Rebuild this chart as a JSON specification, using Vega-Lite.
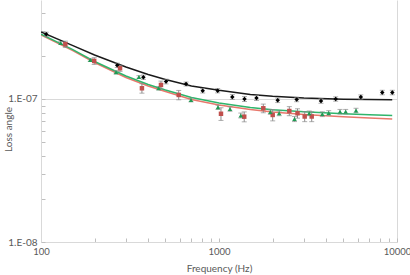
{
  "$schema": "https://vega.github.io/schema/vega-lite/v6.json",
  "width": 356,
  "height": 242,
  "autosize": {"type": "none"},
  "padding": {"left": 41, "right": 13, "top": 0, "bottom": 33},
  "background": "white",
  "config": {
    "view": {"stroke": null},
    "font": "Lato",
    "axis": {
      "domainColor": "#d9d9d9",
      "gridColor": "#d9d9d9",
      "tickColor": "#bfbfbf",
      "labelColor": "#595959",
      "titleColor": "#595959",
      "labelFont": "Lato",
      "titleFont": "Lato",
      "labelFontSize": 10,
      "titleFontSize": 10,
      "titleFontWeight": "normal"
    }
  },
  "datasets": {
    "pts": [
      {"series": "A", "f": 107, "v": 2.83e-7, "err": 0.10e-7},
      {"series": "A", "f": 268, "v": 1.72e-7, "err": 0.06e-7},
      {"series": "A", "f": 376, "v": 1.42e-7, "err": 0.05e-7},
      {"series": "A", "f": 504, "v": 1.325e-7, "err": 0.05e-7},
      {"series": "A", "f": 653, "v": 1.273e-7, "err": 0.04e-7},
      {"series": "A", "f": 810, "v": 1.141e-7, "err": 0.04e-7},
      {"series": "A", "f": 983, "v": 1.143e-7, "err": 0.04e-7},
      {"series": "A", "f": 1188, "v": 1.033e-7, "err": 0.04e-7},
      {"series": "A", "f": 1391, "v": 1.0e-7, "err": 0.04e-7},
      {"series": "A", "f": 1624, "v": 1.016e-7, "err": 0.04e-7},
      {"series": "A", "f": 2137, "v": 0.979e-7, "err": 0.035e-7},
      {"series": "A", "f": 2732, "v": 0.992e-7, "err": 0.035e-7},
      {"series": "A", "f": 3741, "v": 0.968e-7, "err": 0.035e-7},
      {"series": "A", "f": 4524, "v": 1.0e-7, "err": 0.035e-7},
      {"series": "A", "f": 6261, "v": 1.033e-7, "err": 0.035e-7},
      {"series": "A", "f": 8266, "v": 1.11e-7, "err": 0.04e-7},
      {"series": "A", "f": 9410, "v": 1.11e-7, "err": 0.04e-7},
      {"series": "B", "f": 137, "v": 2.416e-7, "err": 0.12e-7},
      {"series": "B", "f": 199, "v": 1.844e-7, "err": 0.10e-7},
      {"series": "B", "f": 278, "v": 1.639e-7, "err": 0.08e-7},
      {"series": "B", "f": 369, "v": 1.188e-7, "err": 0.09e-7},
      {"series": "B", "f": 472, "v": 1.253e-7, "err": 0.08e-7},
      {"series": "B", "f": 594, "v": 1.067e-7, "err": 0.08e-7},
      {"series": "B", "f": 1026, "v": 0.788e-7, "err": 0.08e-7},
      {"series": "B", "f": 1386, "v": 0.752e-7, "err": 0.06e-7},
      {"series": "B", "f": 1774, "v": 0.861e-7, "err": 0.06e-7},
      {"series": "B", "f": 2003, "v": 0.773e-7, "err": 0.07e-7},
      {"series": "B", "f": 2483, "v": 0.824e-7, "err": 0.06e-7},
      {"series": "B", "f": 2761, "v": 0.794e-7, "err": 0.06e-7},
      {"series": "B", "f": 3030, "v": 0.754e-7, "err": 0.06e-7},
      {"series": "B", "f": 3318, "v": 0.754e-7, "err": 0.06e-7},
      {"series": "C", "f": 129, "v": 2.464e-7, "err": 0.05e-7},
      {"series": "C", "f": 189, "v": 1.874e-7, "err": 0.04e-7},
      {"series": "C", "f": 264, "v": 1.537e-7, "err": 0.04e-7},
      {"series": "C", "f": 355, "v": 1.425e-7, "err": 0.03e-7},
      {"series": "C", "f": 458, "v": 1.188e-7, "err": 0.03e-7},
      {"series": "C", "f": 696, "v": 0.984e-7, "err": 0.03e-7},
      {"series": "C", "f": 987, "v": 0.875e-7, "err": 0.03e-7},
      {"series": "C", "f": 1153, "v": 0.851e-7, "err": 0.03e-7},
      {"series": "C", "f": 1326, "v": 0.767e-7, "err": 0.03e-7},
      {"series": "C", "f": 1942, "v": 0.811e-7, "err": 0.03e-7},
      {"series": "C", "f": 2178, "v": 0.794e-7, "err": 0.03e-7},
      {"series": "C", "f": 2656, "v": 0.725e-7, "err": 0.03e-7},
      {"series": "C", "f": 3212, "v": 0.794e-7, "err": 0.03e-7},
      {"series": "C", "f": 3805, "v": 0.783e-7, "err": 0.03e-7},
      {"series": "C", "f": 4134, "v": 0.798e-7, "err": 0.03e-7},
      {"series": "C", "f": 4784, "v": 0.815e-7, "err": 0.03e-7},
      {"series": "C", "f": 5149, "v": 0.815e-7, "err": 0.03e-7},
      {"series": "C", "f": 5885, "v": 0.831e-7, "err": 0.03e-7}
    ],
    "curves": [
      {"series": "A", "f": 100, "v": 2.94e-7},
      {"series": "A", "f": 150, "v": 2.37e-7},
      {"series": "A", "f": 200, "v": 2.03e-7},
      {"series": "A", "f": 300, "v": 1.674e-7},
      {"series": "A", "f": 400, "v": 1.483e-7},
      {"series": "A", "f": 500, "v": 1.37e-7},
      {"series": "A", "f": 700, "v": 1.233e-7},
      {"series": "A", "f": 1000, "v": 1.15e-7},
      {"series": "A", "f": 1500, "v": 1.075e-7},
      {"series": "A", "f": 2000, "v": 1.044e-7},
      {"series": "A", "f": 3000, "v": 1.016e-7},
      {"series": "A", "f": 5000, "v": 0.997e-7},
      {"series": "A", "f": 7000, "v": 0.992e-7},
      {"series": "A", "f": 9400, "v": 0.989e-7},
      {"series": "B", "f": 100, "v": 2.803e-7},
      {"series": "B", "f": 150, "v": 2.184e-7},
      {"series": "B", "f": 200, "v": 1.80e-7},
      {"series": "B", "f": 300, "v": 1.413e-7},
      {"series": "B", "f": 400, "v": 1.233e-7},
      {"series": "B", "f": 500, "v": 1.128e-7},
      {"series": "B", "f": 700, "v": 0.992e-7},
      {"series": "B", "f": 1000, "v": 0.908e-7},
      {"series": "B", "f": 1500, "v": 0.845e-7},
      {"series": "B", "f": 2000, "v": 0.811e-7},
      {"series": "B", "f": 3000, "v": 0.779e-7},
      {"series": "B", "f": 5000, "v": 0.751e-7},
      {"series": "B", "f": 7000, "v": 0.736e-7},
      {"series": "B", "f": 9400, "v": 0.725e-7},
      {"series": "C", "f": 100, "v": 2.835e-7},
      {"series": "C", "f": 150, "v": 2.22e-7},
      {"series": "C", "f": 200, "v": 1.829e-7},
      {"series": "C", "f": 300, "v": 1.448e-7},
      {"series": "C", "f": 400, "v": 1.263e-7},
      {"series": "C", "f": 500, "v": 1.156e-7},
      {"series": "C", "f": 700, "v": 1.024e-7},
      {"series": "C", "f": 1000, "v": 0.938e-7},
      {"series": "C", "f": 1500, "v": 0.872e-7},
      {"series": "C", "f": 2000, "v": 0.84e-7},
      {"series": "C", "f": 3000, "v": 0.814e-7},
      {"series": "C", "f": 5000, "v": 0.788e-7},
      {"series": "C", "f": 7000, "v": 0.775e-7},
      {"series": "C", "f": 9400, "v": 0.767e-7}
    ]
  },
  "layer": [
    {
      "data": {"name": "curves"},
      "mark": {"type": "line", "strokeWidth": 1.5, "clip": true},
      "encoding": {
        "x": {
          "field": "f", "type": "quantitative", "title": "Frequency (Hz)",
          "scale": {"type": "log", "domain": [100, 10000], "nice": false},
          "axis": {
            "values": [100, 200, 300, 400, 500, 600, 700, 800, 900, 1000, 2000, 3000, 4000, 5000, 6000, 7000, 8000, 9000, 10000],
            "format": "d",
            "labelExpr": "(datum.value == 100 || datum.value == 1000 || datum.value == 10000) ? datum.label : ''",
            "labelFontSize": 9.5,
            "tickSize": -4,
            "labelPadding": 8,
            "labelFlush": false,
            "labelOverlap": false,
            "grid": true,
            "gridOpacity": {"condition": {"test": "datum.value == 10000", "value": 1}, "value": 0},
            "titleY": 26,
            "titleBaseline": "middle"
          }
        },
        "y": {
          "field": "v", "type": "quantitative", "title": "Loss angle",
          "scale": {"type": "log", "domain": [1e-8, 4.92e-7], "nice": false},
          "axis": {
            "values": [1e-8, 2e-8, 3e-8, 4e-8, 5e-8, 6e-8, 7e-8, 8e-8, 9e-8, 1e-7, 2e-7, 3e-7, 4e-7],
            "labelExpr": "datum.value == 1e-7 ? '1.E-07' : (datum.value == 1e-8 ? '1.E-08' : '')",
            "tickSize": -4,
            "labelPadding": 8,
            "labelFlush": false,
            "labelOverlap": false,
            "grid": true,
            "gridOpacity": {"condition": {"test": "datum.value == 1e-7", "value": 1}, "value": 0},
            "titleX": -33,
            "titleY": 129,
            "titleAlign": "center",
            "titleBaseline": "middle"
          }
        },
        "stroke": {
          "field": "series", "type": "nominal",
          "scale": {"domain": ["A", "B", "C"], "range": ["#1a1a1a", "#e8786c", "#2fb56b"]},
          "legend": null
        },
        "detail": {"field": "series"}
      }
    },
    {
      "data": {"name": "pts"},
      "mark": {"type": "errorbar", "ticks": {"size": 5}, "color": "#8c8c8c", "thickness": 1},
      "encoding": {
        "x": {"field": "f", "type": "quantitative", "title": "Frequency (Hz)"},
        "y": {"field": "v", "type": "quantitative", "title": "Loss angle"},
        "yError": {"field": "err"}
      }
    },
    {
      "data": {"name": "pts"},
      "mark": {"type": "point", "filled": true, "opacity": 1, "size": 20},
      "encoding": {
        "x": {"field": "f", "type": "quantitative", "title": "Frequency (Hz)"},
        "y": {"field": "v", "type": "quantitative", "title": "Loss angle"},
        "fill": {
          "field": "series", "type": "nominal",
          "scale": {"domain": ["A", "B", "C"], "range": ["#000000", "#c0504d", "#1f9a52"]},
          "legend": null
        },
        "shape": {
          "field": "series", "type": "nominal",
          "scale": {"domain": ["A", "B", "C"], "range": ["diamond", "square", "triangle-up"]},
          "legend": null
        }
      }
    }
  ]
}
